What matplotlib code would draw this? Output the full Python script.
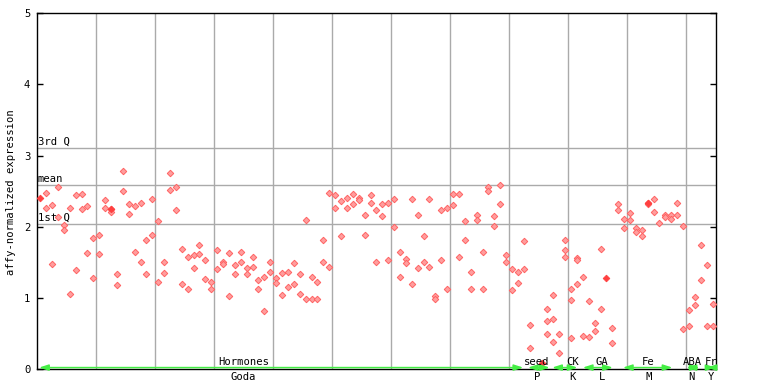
import matplotlib
matplotlib.use("Agg")
import matplotlib.pyplot as plt

# ---- data ----
slot_values = {
    1: [2.48, 2.27], 2: [2.30, 1.47], 3: [2.56, 2.13], 4: [2.02, 1.95],
    5: [2.26, 1.06], 6: [2.44, 1.39], 7: [2.46, 2.25], 8: [2.29, 1.63],
    9: [1.84, 1.28], 10: [1.88, 1.61], 11: [2.37, 2.27], 12: [2.25, 2.21],
    13: [1.33, 1.18], 14: [2.78, 2.50], 15: [2.32, 2.18], 16: [2.29, 1.64],
    17: [2.34, 1.51], 18: [1.81, 1.33], 19: [2.39, 1.88], 20: [2.08, 1.22],
    21: [1.51, 1.35], 22: [2.75, 2.51], 23: [2.56, 2.23], 24: [1.68, 1.19],
    25: [1.57, 1.13], 26: [1.60, 1.42], 27: [1.75, 1.61], 28: [1.53, 1.26],
    29: [1.22, 1.12], 30: [1.67, 1.40], 31: [1.50, 1.47], 32: [1.63, 1.02],
    33: [1.46, 1.33], 34: [1.64, 1.50], 35: [1.42, 1.33], 36: [1.57, 1.43],
    37: [1.25, 1.12], 38: [1.30, 0.81], 39: [1.51, 1.37], 40: [1.28, 1.21],
    41: [1.35, 1.04], 42: [1.37, 1.15], 43: [1.49, 1.19], 44: [1.33, 1.06],
    45: [2.09, 0.98], 46: [1.29, 0.98], 47: [1.22, 0.99], 48: [1.81, 1.50],
    49: [2.47, 1.44], 50: [2.44, 2.26], 51: [2.36, 1.87], 52: [2.41, 2.27],
    53: [2.46, 2.32], 54: [2.40, 2.37], 55: [2.16, 1.88], 56: [2.44, 2.34],
    57: [2.23, 1.51], 58: [2.32, 2.15], 59: [2.34, 1.53], 60: [2.39, 1.99],
    61: [1.64, 1.30], 62: [1.54, 1.49], 63: [2.39, 1.19], 64: [2.16, 1.42],
    65: [1.87, 1.50], 66: [2.39, 1.44], 67: [1.02, 0.99], 68: [2.23, 1.53],
    69: [2.26, 1.13], 70: [2.46, 2.30], 71: [2.46, 1.57], 72: [2.08, 1.81],
    73: [1.37, 1.12], 74: [2.16, 2.09], 75: [1.64, 1.13], 76: [2.56, 2.50],
    77: [2.15, 2.01], 78: [2.58, 2.32], 79: [1.60, 1.51], 80: [1.40, 1.11],
    81: [1.37, 1.21], 82: [1.80, 1.41], 83: [0.62, 0.29],
    86: [0.85, 0.67, 0.49], 87: [1.04, 0.70, 0.38], 88: [0.49, 0.22],
    89: [1.82, 1.67, 1.57], 90: [1.12, 0.97, 0.43], 91: [1.56, 1.53, 1.19],
    92: [1.29, 0.46], 93: [0.95, 0.45], 94: [0.64, 0.54], 95: [1.68, 0.85],
    97: [0.57, 0.36], 98: [2.32, 2.23], 99: [2.11, 1.98], 100: [2.19, 2.09],
    101: [1.98, 1.92], 102: [1.95, 1.87], 103: [2.34, 2.32], 104: [2.39, 2.20],
    105: [2.05], 106: [2.16, 2.13], 107: [2.16, 2.11], 108: [2.34, 2.16],
    109: [2.01, 0.56], 110: [0.83, 0.61], 111: [1.01, 0.90], 112: [1.75, 1.25],
    113: [1.46, 0.61], 114: [0.91, 0.61],
}
highlight_slots = [0, 12, 85, 96, 103]
highlight_values = [2.41, 2.25, 0.08, 1.28, 2.34]

n_slots = 115
quartile_names = ["3rd Q", "mean", "1st Q"]
quartile_values = [3.10, 2.58, 2.04]

group_top = ["Hormones", "seed", "CK", "GA", "Fe", "ABA", "Fr"]
group_bottom = ["Goda", "P", "K", "L", "M", "N", "Y"]
group_start = [0.3, 83.2, 87.3, 92.5, 99.3, 110.1, 113.5]
group_end = [82.4, 86.9, 91.6, 97.6, 107.7, 112.3, 115.0]
group_label_pos = [35.0, 84.7, 90.8, 95.8, 103.6, 111.0, 114.2]

# ---- figure ----
mono = "DejaVu Sans Mono"
fig = plt.figure(figsize=(7.68, 3.84), dpi=100)
ax = fig.add_axes([37.3 / 768, 15 / 384, (715.5 - 37.3) / 768, (369 - 13.3) / 384])
ax.set_xlim(0, n_slots)
ax.set_ylim(0, 5)

grid_c = "#aaaaaa"
for gx in range(10, n_slots, 10):
    ax.axvline(gx, color=grid_c, lw=1.0, zorder=1)
for name, qv in zip(quartile_names, quartile_values):
    ax.axhline(qv, color=grid_c, lw=1.0, zorder=1)
    ax.annotate(name, (0, qv), xytext=(0.5, 1.0), textcoords="offset points",
                ha="left", va="bottom", fontsize=7.6, family=mono, color="black")

xs, ys = [], []
for s, vals in slot_values.items():
    for v in vals:
        xs.append(s + 0.5)
        ys.append(v)
ax.plot(xs, ys, linestyle="none", marker="D", ms=3.3, mfc="#ff9e9e",
        mec="#ff6262", mew=0.7, zorder=3)
ax.plot([s + 0.5 for s in highlight_slots], highlight_values, linestyle="none",
        marker="D", ms=3.4, mfc="#ff4040", mec="#ff4040", mew=0.6, zorder=4)

for name_t, name_b, g0, g1, lp in zip(group_top, group_bottom, group_start,
                                      group_end, group_label_pos):
    ax.annotate("", xy=(g1, 0.02), xytext=(g0, 0.02),
                arrowprops=dict(arrowstyle="<|-|>,head_length=0.55,head_width=0.18",
                                color="#44ee44", lw=1.1, shrinkA=0, shrinkB=0),
                annotation_clip=False, zorder=5)
    ax.annotate(name_t, (lp, 0), xytext=(0, 1.5), textcoords="offset points",
                ha="center", va="bottom", fontsize=7.6, family=mono,
                annotation_clip=False, zorder=6)
    ax.annotate(name_b, (lp, 0), xytext=(0, -2.0), textcoords="offset points",
                ha="center", va="top", fontsize=7.6, family=mono,
                annotation_clip=False, zorder=6)

ax.set_xticks([])
ax.set_yticks([0, 1, 2, 3, 4, 5])
ax.set_yticklabels(["0", "1", "2", "3", "4", "5"], family=mono, fontsize=7.6)
ax.tick_params(axis="y", direction="in", length=4.3, width=1.0, pad=5,
               right=True, left=True)
for sp in ax.spines.values():
    sp.set_color("black")
    sp.set_linewidth(1.0)

fig.text(11 / 768, 1 - 192 / 384, "affy-normalized expression", rotation=90,
         ha="center", va="center", fontsize=7.6, family=mono)

fig.savefig("out.png", dpi=100)
